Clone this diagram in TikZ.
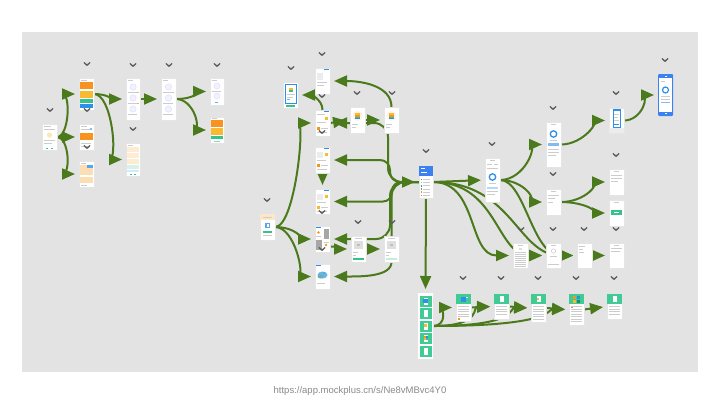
\documentclass[tikz,border=0pt]{standalone}
\usepackage{fontspec}
\setmainfont{Liberation Sans}
\usetikzlibrary{arrows.meta}
\definecolor{panelgray}{HTML}{E3E3E3}
\definecolor{flowgreen}{HTML}{4A7A1C}
\definecolor{chevgray}{HTML}{5C5C5C}
\definecolor{uiorange}{HTML}{F7931E}
\definecolor{uiyellow}{HTML}{F8BA30}
\definecolor{uigreen}{HTML}{36C28A}
\definecolor{uiblue}{HTML}{2E8FE8}
\definecolor{uipeach}{HTML}{FCDDB4}
\definecolor{uimint}{HTML}{3FCB93}
\definecolor{txt}{HTML}{CCCCCC}
\definecolor{urlgray}{HTML}{8A8A8A}
\definecolor{brand}{HTML}{3B82F0}
\pgfdeclarelayer{panel}
\pgfdeclarelayer{links}
\pgfsetlayers{panel,links,main}
% a screen thumbnail: name, centre x, centre y, width, height
\newcommand\scrnode[5]{\node[scrn,minimum width=#4pt,minimum height=#5pt] (#1) at (#2,#3) {};}
% contents of a screen, in coordinates local to its top left corner
\newcommand\scrin[2]{\begin{scope}[shift={(#1.north west)}]#2\end{scope}}
% small collapse mark above a screen
\newcommand\chevmark[2]{\draw[chev] (#1-2.8,#2-1.3) -- (#1,#2+1.3) -- (#1+2.8,#2-1.3);}
% one grey line of placeholder text
\newcommand\txline[3]{\fill[txt] (#1,#2) rectangle ++(#3,0.8);}
% green tile with a page icon
\newcommand\greenhead{\fill[uimint] (0,0) rectangle (15,10);\fill[white] (5.5,2) rectangle (9.5,8);\fill[uiblue!70] (9.5,5) rectangle ++(1.5,1.5);}
\begin{document}
\begin{tikzpicture}[x=1pt,y=-1pt,
  scrn/.style={draw=black!10,line width=0.3pt,fill=white,inner sep=0pt,outer sep=0pt},
  flow/.style={draw=flowgreen,line width=2pt,-{Triangle[length=13pt,width=11pt]},shorten >=4pt},
  chev/.style={draw=chevgray,line width=1.3pt,line cap=round,line join=round}]
\useasboundingbox (0,0) rectangle (720,405);
\begin{pgfonlayer}{panel}
  \fill[white] (0,0) rectangle (720,405);
  \fill[panelgray] (22,32) rectangle (698,372);
\end{pgfonlayer}

% ---------- left group ----------
\scrnode{A}{49.5}{137}{15}{26}
\scrnode{B}{86.5}{94}{15}{32}
\scrnode{C}{86.5}{137}{15}{26}
\scrnode{D}{86.5}{174}{15}{26}
\scrnode{E}{133}{99}{14}{42}
\scrnode{F}{133}{159.5}{14}{33}
\scrnode{G}{168.5}{99}{15}{42}
\scrnode{H}{217}{91.5}{14}{27}
\scrnode{I}{217}{130}{14}{26}

\scrin{A}{\txline{2}{2}{7}\txline{2}{4.5}{11}\fill[uiyellow!35] (7.5,11) circle (2.6);\txline{2}{16}{11}\txline{2}{18.5}{8}\fill[uigreen] (4,23.5) rectangle ++(2,1);\fill[uigreen] (9,23.5) rectangle ++(2,1);}
\scrin{B}{\txline{2}{1.5}{6}\fill[uiorange] (1,4) rectangle (14,11);\fill[uiyellow] (1,12.5) rectangle (14,20);\fill[uigreen] (1,21) rectangle (14,25);\fill[uiblue] (1,26) rectangle (14,29.5);}
\scrin{C}{\txline{2}{2}{6}\txline{2}{4.5}{11}\fill[uiblue!60] (11,4.3) rectangle ++(2,1.2);\fill[uiorange] (1,9) rectangle (14,16);\txline{2}{19}{10}\txline{2}{21.5}{7}}
\scrin{D}{\txline{2}{1.5}{5}\fill[uipeach] (1,4) rectangle (14,14);\fill[uiblue!80] (8,4) rectangle (14,6.5);\fill[uipeach] (1,15.5) rectangle (14,22);\txline{2}{24}{6}}
\scrin{E}{\txline{2}{2}{5}\foreach \yy in {9,20,31}{\draw[blue!15,fill=blue!5] (7,\yy) circle (3.2);\txline{2}{\yy+5}{9}}\fill[uiorange!70] (11,14) rectangle ++(1.5,1.2);\fill[uiorange!70] (11,25) rectangle ++(1.5,1.2);}
\scrin{F}{\txline{2}{1.5}{5}\fill[uipeach!60] (1,4) rectangle (13,9);\fill[uipeach!60] (1,10) rectangle (13,15);\fill[uipeach!60] (1,16) rectangle (13,21);\fill[uigreen!20] (1,22) rectangle (13,25.5);\fill[uiblue!20] (1,26.5) rectangle (13,29);\fill[uigreen] (4,31) rectangle ++(2,0.9);\fill[uigreen] (8,31) rectangle ++(2,0.9);}
\scrin{G}{\txline{2}{2}{5}\foreach \yy in {9,20,31}{\draw[blue!15,fill=blue!5] (7.5,\yy) circle (3.2);\txline{2}{\yy+5}{10}}\fill[uiorange!70] (11.5,14) rectangle ++(1.5,1.2);}
\scrin{H}{\txline{2}{2}{5}\foreach \yy in {8,18}{\draw[blue!15,fill=blue!5] (7,\yy) circle (3);}\txline{2}{13}{9}\fill[uiblue!70] (5,23.5) rectangle ++(3,1.2);}
\scrin{I}{\txline{2}{1.2}{5}\fill[uiorange] (1,3) rectangle (13,10);\fill[uiyellow] (1,11) rectangle (13,17.5);\fill[uigreen] (1,18.5) rectangle (13,22);\fill[uigreen!60] (4,23.5) rectangle ++(6,1);}

% ---------- centre group ----------
\scrnode{J}{290.5}{95}{15}{26}
\scrnode{K}{322.5}{81}{15}{26}
\scrnode{L}{322.5}{123}{15}{26}
\scrnode{M}{322.5}{160}{15}{26}
\scrnode{Q}{322.5}{201.5}{15}{25}
\scrnode{R}{322.5}{239}{15}{26}
\scrnode{T}{322.5}{276.5}{15}{25}
\scrnode{S}{267.5}{227}{15}{26}
\scrnode{N1}{357.5}{120}{15}{26}
\scrnode{N2}{391.5}{120}{15}{26}
\scrnode{U}{358.5}{249}{15}{26}
\scrnode{V}{391.5}{249}{15}{26}
\scrnode{P}{426}{182}{14}{32}
\scrnode{W}{425.5}{326}{15}{66}

\scrin{J}{\draw[uiblue,line width=0.6pt] (2,2) rectangle (13,21);\fill[uiyellow] (5.5,5.5) rectangle (9.5,8);\fill[uigreen] (5.5,8) rectangle (9.5,9.5);\txline{3.5}{12}{8}\txline{3.5}{14.5}{6}\fill[uiblue!70] (3.5,17) rectangle ++(3,1);\fill[uigreen] (3,22.5) rectangle (12,24.5);}
\scrin{K}{\fill[uiblue] (9,1.2) rectangle (13.5,2.3);\fill[gray!15] (2,5) rectangle (8,12);\txline{2}{14}{10}\txline{2}{17}{7}}
\scrin{L}{\fill[uiblue] (9,1.2) rectangle (13.5,2.3);\txline{2}{4}{8}\fill[uiyellow] (10,7) rectangle ++(3,3);\txline{2}{12}{9}\fill[uiorange] (2,16.5) rectangle ++(3,3);\txline{6}{17.5}{7}\txline{2}{22}{10}}
\scrin{M}{\fill[uiblue] (9,1.2) rectangle (13.5,2.3);\fill[gray!15] (2,4.5) rectangle (8,10.5);\fill[uiyellow] (10,6) rectangle ++(3,3);\txline{2}{13}{9}\fill[uiorange] (2,16.5) rectangle ++(3,3);\txline{6}{17.5}{7}\txline{2}{22}{10}}
\scrin{Q}{\fill[uiblue] (9,1.2) rectangle (13.5,2.3);\fill[gray!15] (2,4.5) rectangle (8,10.5);\fill[uiyellow] (10,6) rectangle ++(3,3);\txline{2}{13}{9}\fill[uiyellow] (2,16.5) rectangle ++(3,3);\txline{6}{17.5}{7}\txline{2}{22}{10}}
\scrin{R}{\fill[uiblue] (1,1) rectangle ++(5,1);\fill[gray!70] (8.5,3) rectangle (14,13);\fill[gray!70] (1,14) rectangle (6.5,24);\fill[uiorange] (3.5,6.5) circle (1.4);\fill[uiorange] (11,19) circle (1.4);\txline{1}{10}{5}\txline{8.5}{16}{5}}
\scrin{T}{\fill[uiblue] (1,1) rectangle ++(5,1.2);\fill[uiblue!70] (7.5,11) ellipse (5 and 3.5);\fill[teal!60] (5.5,12.5) ellipse (3 and 2);\fill[uigreen] (9,9) circle (1.2);\txline{2}{19}{8}}
\scrin{S}{\fill[uipeach!70] (0,0) rectangle (15,6);\txline{3}{2.5}{9}\fill[uiblue!80] (5,8.5) rectangle (10,14);\fill[white] (6.5,10) rectangle (8.5,12.5);\fill[uigreen] (3,16.5) rectangle (12,18.5);\txline{3}{21}{9}}
\scrin{N1}{\fill[uiorange!12] (7.5,9) circle (5);\fill[uiyellow] (5,6) rectangle (10,8);\fill[uiorange] (5,8) rectangle (10,9.5);\fill[uigreen] (5,9.5) rectangle (10,11);\fill[uiblue] (5,11) rectangle (10,12.3);\txline{2}{17}{6}\txline{2}{19.5}{4}}
\scrin{N2}{\fill[uiorange!12] (7.5,9) circle (5);\fill[uiyellow] (5,6) rectangle (10,8);\fill[uiorange] (5,8) rectangle (10,9.5);\fill[uigreen] (5,9.5) rectangle (10,11);\fill[uiblue] (5,11) rectangle (10,12.3);\txline{2}{17}{6}\txline{2}{19.5}{4}}
\scrin{U}{\txline{4}{2}{7}\fill[gray!25] (3,5) rectangle (12,13);\fill[gray!50] (6,8.3) rectangle ++(3,1.3);\txline{2}{16}{5}\txline{2}{18.5}{3}\fill[uigreen] (2,22) rectangle (13,24);}
\scrin{V}{\txline{4}{2}{7}\fill[gray!25] (3,5) rectangle (12,13);\fill[gray!50] (6,8.3) rectangle ++(3,1.3);\txline{2}{16}{5}\txline{2}{18.5}{3}\fill[uigreen!30] (2,22) rectangle (13,24);}
\scrin{P}{\fill[brand] (0,0) rectangle (14,10);\fill[white] (1.5,2) rectangle ++(4,0.8);\fill[white] (1.5,6) rectangle ++(6,0.8);
  \foreach \k/\cc in {0/uiblue,1/uiyellow,2/uiblue,3/uigreen,4/uiorange,5/red!60}{\fill[\cc] (1.5,12.5+3.2*\k) rectangle ++(1.6,1.6);\txline{4}{12.9+3.2*\k}{7}}}
\scrin{W}{\fill[white] (0,0) rectangle (15,66);
  \foreach \k in {0,...,4}{\fill[uimint] (1.5,3+12.4*\k) rectangle ++(12,11);\fill[white] (5.5,5+12.4*\k) rectangle ++(4,7);}
  \fill[uiblue] (5,6) rectangle ++(5,4);\fill[uiyellow] (5.5,31) rectangle ++(3,3);\fill[uiorange] (5.5,43) rectangle ++(2,2);\fill[uiblue] (7.5,43) rectangle ++(2,2);\fill[uiyellow] (5.5,45) rectangle ++(2,2);\fill[uigreen] (7.5,45) rectangle ++(2,2);}

% ---------- right group ----------
\scrnode{X}{492.5}{180}{15}{44}
\scrnode{Y}{553.5}{144.5}{15}{45}
\scrnode{Z}{553.5}{202}{15}{26}
\scrnode{AA}{616.5}{182}{15}{26}
\scrnode{AB}{616.5}{213}{15}{26}
\scrnode{AC}{520.5}{255.5}{15}{25}
\scrnode{AD}{553.5}{255.5}{15}{25}
\scrnode{AE}{584.5}{255.5}{15}{25}
\scrnode{AF}{616.5}{255.5}{15}{25}
\scrnode{AG}{616.5}{120.5}{15}{25}
\scrnode{AH}{665.5}{95}{15}{42}

\scrin{X}{\txline{5}{2}{5}\txline{2}{6}{5}\txline{9}{6}{4}\txline{2}{10}{11}\draw[uiblue,line width=1.3pt] (7.5,19) circle (3.2);\txline{4}{25}{7}\fill[uiblue!35] (2,28.5) rectangle (13,30.5);\txline{2}{33}{11}\txline{2}{36}{8}}
\scrin{Y}{\txline{5}{2}{5}\draw[uiblue,line width=1.3pt] (7.5,12) circle (3.2);\txline{4}{18}{7}\fill[uiblue!60] (2,21) rectangle (13,24);\txline{2}{27}{11}\txline{2}{30}{11}\txline{2}{33}{8}}
\scrin{Z}{\txline{5}{2}{5}\txline{2}{6}{11}\txline{2}{9}{7}\txline{2}{13}{5}}
\scrin{AA}{\txline{5}{2}{5}\txline{2}{5.5}{11}\txline{2}{8.5}{11}\txline{2}{11.5}{7}}
\scrin{AB}{\txline{5}{2}{5}\fill[uigreen] (2,10) rectangle (13,15);\fill[white] (5,12) rectangle ++(5,0.8);}
\scrin{AC}{\txline{5}{2}{5}\fill[gray!25] (6,4.5) rectangle ++(3,2.5);\foreach \yy in {9,11,...,23}{\txline{2}{\yy}{11}}}
\scrin{AD}{\txline{5}{2}{5}\draw[gray!50] (7.5,8) circle (2.2);\txline{4}{13}{7}\txline{2}{21}{11}}
\scrin{AE}{\txline{2}{3}{6}\txline{2}{6}{4}\txline{2}{9}{5}}
\scrin{AF}{\txline{5}{2}{5}\txline{2}{5}{11}\txline{2}{8}{9}}
\scrin{AG}{\fill[gray!15] (0,20) rectangle (15,25);\draw[uiblue,line width=0.6pt] (4,1) rectangle (11,19);\fill[uiblue] (4,1) rectangle (11,3);\txline{5}{6}{5}\txline{5}{9}{4}\txline{5}{12}{5}\fill[uiblue] (5,16) rectangle (10,17);}
\scrin{AH}{\fill[brand,rounded corners=1pt] (0,0) rectangle (15,42);\fill[white] (1.3,4) rectangle (13.7,37.5);\fill[white] (6.5,1.5) rectangle ++(2,1);\txline{3}{7}{4}\draw[uiblue,line width=1.2pt] (7.5,16) circle (3);\txline{3}{22}{9}\txline{3}{25}{9}\fill[uiblue!60] (3,28) rectangle ++(9,1.2);\fill[white] (6.5,39) rectangle ++(2,1);}

% ---------- bottom row ----------
\scrnode{BA}{463.5}{307.5}{15}{27}
\scrnode{BB}{501.5}{306.5}{15}{25}
\scrnode{BC}{538.5}{308}{15}{28}
\scrnode{BD}{576.5}{309.5}{15}{31}
\scrnode{BE}{614.5}{306.5}{15}{25}
\scrin{BA}{\fill[uimint] (0,0) rectangle (15,10);\fill[uiblue] (4.5,3) rectangle (9.5,7.5);\fill[white] (10,2.5) rectangle ++(1.5,1.5);\foreach \yy in {12,14.5,17,19.5,22}{\txline{2}{\yy}{11}}\fill[uiorange] (2,24) rectangle ++(1.5,1.5);}
\scrin{BB}{\greenhead\foreach \yy in {12,14.5,17,19.5}{\txline{2}{\yy}{11}}}
\scrin{BC}{\fill[uimint] (0,0) rectangle (15,10);\fill[white] (5.5,2) rectangle (9.5,8);\fill[uiyellow] (6,4) rectangle ++(2,2);\foreach \yy in {12,14.5,17,19.5,22,24.5}{\txline{2}{\yy}{11}}}
\scrin{BD}{\fill[uimint] (0,0) rectangle (15,10);\fill[uiorange] (4,2) rectangle ++(3,3);\fill[uiblue] (7.5,2) rectangle ++(3,3);\fill[uiyellow] (4,5.5) rectangle ++(3,3);\fill[uigreen!70!black] (7.5,5.5) rectangle ++(3,3);\foreach \yy in {12,14.5,17,19.5,22,24.5,27}{\txline{2}{\yy}{11}}\fill[red!50] (2,13) rectangle ++(2,0.8);}
\scrin{BE}{\greenhead\foreach \yy in {12,14.5,17,19.5}{\txline{2}{\yy}{11}}}

% ---------- collapse marks ----------
\chevmark{50}{110}\chevmark{87}{64}\chevmark{87}{110}\chevmark{87}{147}
\chevmark{133}{65}\chevmark{133}{129}\chevmark{169}{65}\chevmark{217}{65}
\chevmark{291}{68}\chevmark{322}{54}\chevmark{322}{96}\chevmark{322}{132}
\chevmark{357}{93}\chevmark{392}{93}\chevmark{426}{151}\chevmark{267}{200}
\chevmark{322}{212}\chevmark{322}{249}\chevmark{358}{222}\chevmark{392}{222}
\chevmark{492}{144}\chevmark{553}{108}\chevmark{553}{174}\chevmark{616}{155}
\chevmark{521}{229}\chevmark{553}{229}\chevmark{584}{229}\chevmark{616}{229}
\chevmark{616}{93}\chevmark{665}{60}
\chevmark{463}{278}\chevmark{501}{278}\chevmark{538}{278}\chevmark{576}{278}\chevmark{614}{278}

% ---------- flows ----------
\begin{pgfonlayer}{links}
  % left group
  \draw[flow] (A.east) .. controls +(12,0) and +(-8,0) .. (B.west);
  \draw[flow] (A.east) -- (C.west);
  \draw[flow] (A.east) .. controls +(12,0) and +(-8,0) .. (D.west);
  \draw[flow] (B.east) to[out=0,in=180] (E.west);
  \draw[flow] (B.east) .. controls +(18,0) and +(-8,0) .. (F.west);
  \draw[flow] (E.east) -- (G.west);
  \draw[flow] (G.east) .. controls +(18,0) and +(-8,0) .. (H.west);
  \draw[flow] (G.east) .. controls +(18,0) and +(-8,0) .. (I.west);
  % centre group
  \draw[flow] (S.east) .. controls +(20,0) and +(-10,0) .. (L.west);
  \draw[flow] (S.east) .. controls +(20,0) and +(-10,0) .. (R.west);
  \draw[flow] (S.east) .. controls +(20,0) and +(-10,0) .. (T.west);
  \draw[flow] (L.north) to[out=90,in=0] (J.east);
  \draw[flow] (N2.north) .. controls +(0,-22) and +(30,0) .. (K.east);
  \draw[flow] (L.east) -- (N1.west);
  \draw[flow] (N1.east) -- (N2.west);
  % hub: a trunk just left of the hub screen
  \draw[flow,rounded corners=14pt] (V.north) |- (P.west);
  \draw[flow,rounded corners=14pt] (P.west) -- ++(-31,0) |- (L.east);
  \draw[flow,rounded corners=10pt] (P.west) -- ++(-29,0) |- (M.east);
  \draw[flow,rounded corners=9pt] (P.west) -- ++(-27,0) |- (Q.east);
  \draw[flow,rounded corners=14pt] (P.west) -- ++(-29,0) |- (R.east);
  \draw[flow] (M.south) -- (Q.north);
  \draw[flow] (R.-45) to[out=0,in=180] (U.west);
  \draw[flow] (U.east) -- (V.west);
  \draw[flow] (V.south) .. controls +(0,15) and +(30,0) .. (T.east);
  % right group
  \draw[flow] (P.south) -- (W.north);
  \draw[flow] (P.east) -- (X.west);
  \draw[flow] (P.east) .. controls +(45,0) and +(-45,0) .. (AC.west);
  \draw[flow] (P.east) .. controls +(65,0) and +(-50,0) .. (AD.west);
  \draw[flow] (P.east) .. controls +(80,0) and +(-60,0) .. (AE.west);
  \draw[flow] (X.east) .. controls +(25,0) and +(-45,0) .. (AE.west);
  \draw[flow] (AC.east) -- (AD.west);
  \draw[flow] (AD.east) -- (AE.west);
  \draw[flow] (AE.east) -- (AF.west);
  \draw[flow] (X.east) .. controls +(25,0) and +(-8,0) .. (Y.west);
  \draw[flow] (X.east) .. controls +(25,0) and +(-8,0) .. (Z.west);
  \draw[flow] (Z.east) .. controls +(25,0) and +(-8,0) .. (AA.west);
  \draw[flow] (Z.east) .. controls +(25,0) and +(-8,0) .. (AB.west);
  \draw[flow] (Y.east) .. controls +(22,0) and +(-8,0) .. (AG.west);
  \draw[flow] (AG.east) .. controls +(18,0) and +(-8,0) .. (AH.west);
  % bottom row
  \draw[flow] (W.east) .. controls +(14,0) and +(-12,0) .. (BA.west);
  \draw[flow] (W.east) .. controls +(50,0) and +(-22,0) .. (BB.west);
  \draw[flow] (W.east) .. controls +(85,0) and +(-22,0) .. (BC.west);
  \draw[flow] (W.east) .. controls +(120,0) and +(-22,0) .. (BD.west);
  \draw[flow] (BA.east) -- (BB.west);
  \draw[flow] (BB.east) -- (BC.west);
  \draw[flow] (BC.east) -- (BD.west);
  \draw[flow] (BD.east) -- (BE.west);
\end{pgfonlayer}

\node[text=urlgray,font=\fontsize{9.5}{11}\selectfont] (url) at (360,391) {https://app.mockplus.cn/s/Ne8vMBvc4Y0};
\end{tikzpicture}
\end{document}
